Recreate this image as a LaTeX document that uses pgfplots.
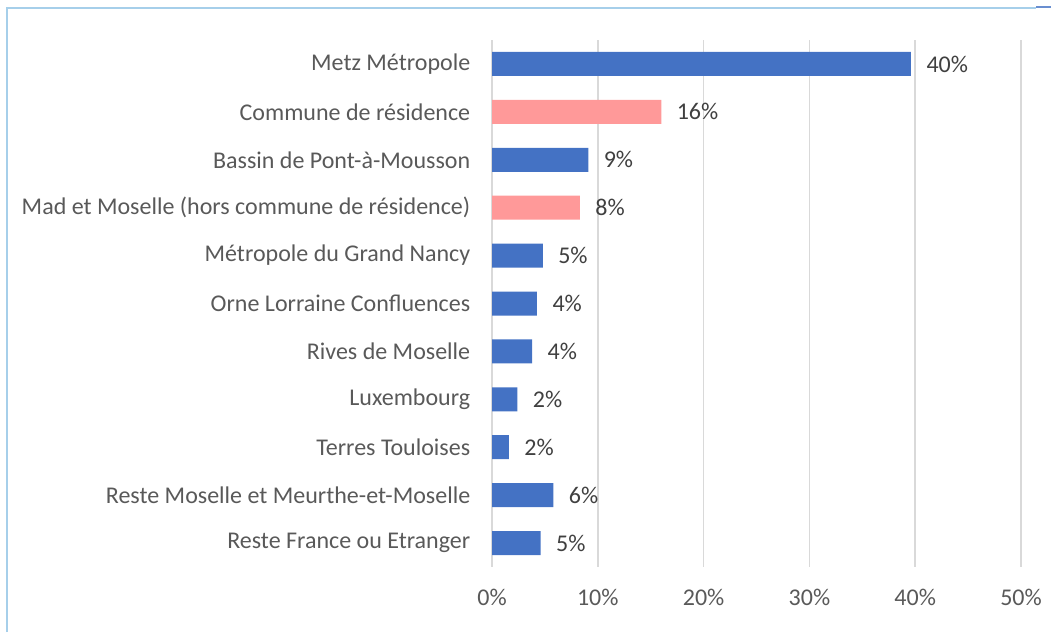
\documentclass[border=0pt]{standalone}
\usepackage{pgfplots}
\pgfplotsset{compat=1.18}
\usepackage{fontspec}
\setmainfont{Carlito}
\definecolor{barblue}{HTML}{4472C4}
\definecolor{barpink}{HTML}{FF9999}
\definecolor{gridgray}{HTML}{D9D9D9}
\definecolor{txtgray}{HTML}{595959}
\definecolor{lblgray}{HTML}{404040}
\definecolor{framebl}{HTML}{A6CFEA}
\pgfplotstableread{
y x
0 39.6
2 9.1
4 4.8
5 4.25
6 3.8
7 2.4
8 1.6
9 5.8
10 4.6
}\blueData
\pgfplotstableread{
y x
1 16.0
3 8.3
}\pinkData
\begin{document}
\begin{tikzpicture}[x=1pt,y=1pt]
\useasboundingbox (0,0) rectangle (1051,632);
\draw[framebl, line width=1.2pt] (7,0) -- (7,624) -- (1036,624);
\draw[barblue!80, line width=1.2pt] (1036,625) -- (1051,625);
\begin{axis}[
  at={(492pt,65pt)}, anchor=south west,
  scale only axis, width=529pt, height=527pt,
  xmin=0, xmax=50, ymin=-0.5, ymax=10.5,
  y dir=reverse,
  xbar, bar width=24pt, bar shift=0pt,
  axis line style={draw=none},
  xmajorgrids, major grid style={gridgray, line width=1.6pt},
  xtick={0,10,20,30,40,50},
  xticklabel={\pgfmathprintnumber{\tick}\%},
  ytick={0,...,10},
  yticklabels={Metz Métropole, Commune de résidence, Bassin de Pont-à-Mousson, Mad et Moselle (hors commune de résidence), Métropole du Grand Nancy, Orne Lorraine Confluences, Rives de Moselle, Luxembourg, Terres Touloises, Reste Moselle et Meurthe-et-Moselle, Reste France ou Etranger},
  tick style={draw=none},
  /pgf/number format/assume math mode=true,
  tick label style={font=\fontsize{24}{28}\selectfont, text=txtgray},
  xticklabel style={yshift=-19pt},
  yticklabel style={xshift=-14pt},
  point meta=x,
  nodes near coords={\pgfmathprintnumber[fixed,precision=0]{\pgfplotspointmeta}\%},
  nodes near coords style={font=\fontsize{24}{28}\selectfont, text=lblgray, anchor=west, xshift=12pt},
  clip=false,
]
\addplot[fill=barblue, draw=none] table[x=x,y=y] {\blueData};
\addplot[fill=barpink, draw=none] table[x=x,y=y] {\pinkData};
\end{axis}
\end{tikzpicture}
\end{document}
